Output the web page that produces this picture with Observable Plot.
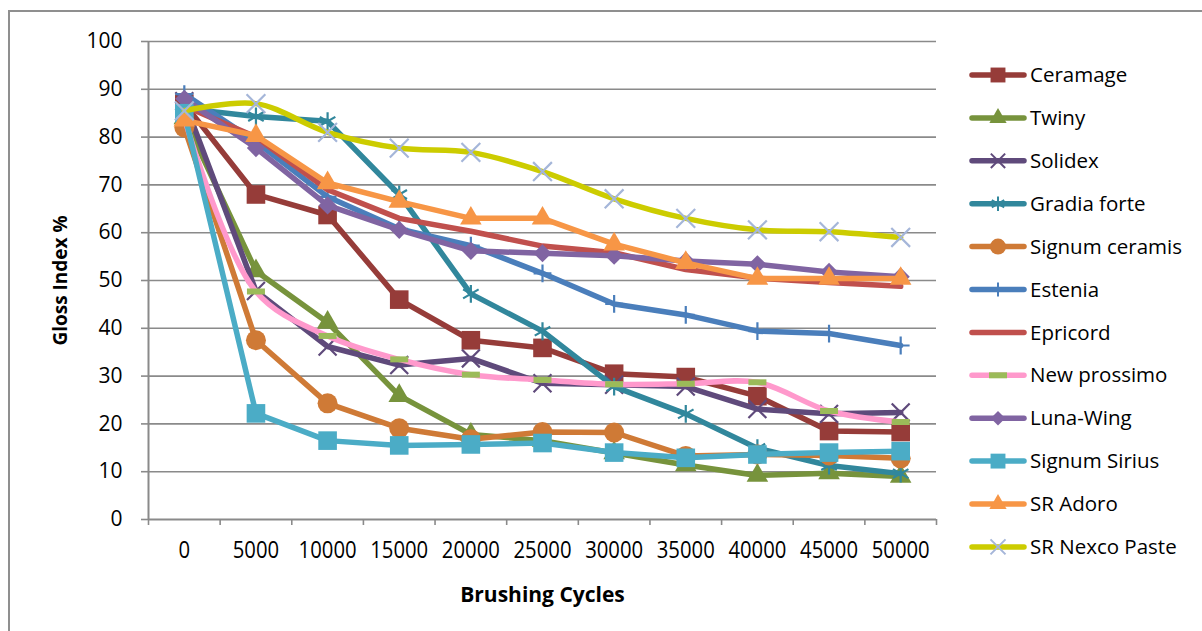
<!DOCTYPE html>
<html>
<head>
<meta charset="utf-8">
<script src="https://cdn.jsdelivr.net/npm/d3@7"></script>
<script src="https://cdn.jsdelivr.net/npm/@observablehq/plot@0.6"></script>
<style>
  html, body { margin: 0; padding: 0; background: #fff; overflow: hidden; }
  #wrap { position: relative; width: 1202px; height: 631px; overflow: hidden; }
  #frame { position: absolute; left: 8px; top: 10px; width: 1300px; height: 700px; border: 2px solid #8f8f8f; box-sizing: border-box; }
  #chart { position: absolute; left: 0; top: 0; }
</style>
</head>
<body>
<div id="wrap"><div id="frame"></div><div id="chart"></div></div>
<script>
// ---- data ----
const cycles = [0, 5000, 10000, 15000, 20000, 25000, 30000, 35000, 40000, 45000, 50000];
const yTicks = [0, 10, 20, 30, 40, 50, 60, 70, 80, 90, 100];
const seriesNames = ["Ceramage", "Twiny", "Solidex", "Gradia forte", "Signum ceramis", "Estenia",
  "Epricord", "New prossimo", "Luna-Wing", "Signum Sirius", "SR Adoro", "SR Nexco Paste"];
const ceramage      = [87, 68, 63.7, 46, 37.5, 35.9, 30.5, 29.8, 25.8, 18.5, 18.3];
const twiny         = [84, 52, 41.2, 25.9, 17.8, 16.5, 13.9, 11.4, 9.2, 9.7, 9.0];
const solidex       = [87.5, 47.8, 36.2, 32.3, 33.7, 28.5, 28.2, 27.8, 23.1, 22.1, 22.4];
const gradiaForte   = [86, 84.3, 83.3, 68, 47.2, 39.4, 27.8, 22.1, 14.9, 11.3, 9.6];
const signumCeramis = [82, 37.5, 24.3, 19.1, 16.8, 18.3, 18.2, 13.3, 13.6, 13.4, 12.8];
const estenia       = [89, 79, 67.5, 60.8, 57.3, 51.5, 45.1, 42.8, 39.4, 38.9, 36.4];
const epricord      = [86.5, 80, 69, 63, 60.3, 57.2, 55.8, 52.3, 50.5, 49.6, 48.8];
const newProssimo   = [84, 47.7, 38.4, 33.5, 30.3, 29.2, 28.3, 28.4, 28.7, 22.7, 20.4];
const lunaWing      = [88, 77.7, 65.7, 60.6, 56.2, 55.7, 55.2, 54.1, 53.4, 51.8, 50.8];
const signumSirius  = [85, 22.2, 16.5, 15.5, 15.7, 16.0, 14.0, 12.9, 13.6, 14.0, 14.3];
const srAdoro       = [83.5, 80.3, 70.4, 66.5, 63.0, 63.0, 57.6, 53.7, 50.4, 50.4, 50.4];
const srNexcoPaste  = [85.5, 87, 81, 77.7, 76.8, 72.8, 67.1, 63, 60.6, 60.2, 59];
const seriesValues = [ceramage, twiny, solidex, gradiaForte, signumCeramis, estenia,
  epricord, newProssimo, lunaWing, signumSirius, srAdoro, srNexcoPaste];

// ---- styles ----
const dash = { draw(ctx) { ctx.moveTo(-9, -3); ctx.lineTo(9, -3); ctx.lineTo(9, 3); ctx.lineTo(-9, 3); ctx.closePath(); } };
const lineColors = ["#963C39", "#77933C", "#5F4A7B", "#31879C", "#CF7A36", "#4A7EBB",
  "#C0504D", "#FF99CC", "#8064A2", "#4BACC6", "#F79646", "#CCCC00"];
const markerColors = ["#963C39", "#77933C", "#5F4A7B", "#31879C", "#CF7A36", "#4A7EBB",
  null, "#9BBB59", "#8064A2", "#4BACC6", "#F79646", "#A5B6D9"];
const markerSymbols = ["square", "triangle", "times", "asterisk", "circle", "plus",
  null, dash, "diamond2", "square", "triangle", "times"];
const markerFilled = [true, true, false, false, true, false, false, true, true, true, true, false];
const markerR = [10.5, 8, 8.2, 8.5, 10, 5.8, 0, 6, 8.2, 10.5, 8, 8.6];
const smooth = [false, false, false, false, false, false, false, true, false, false, false, true];

const rows = seriesNames.map((name, s) => seriesValues[s].map((v, i) => ({ name, i, v })));

const gray = "#8a8a8a";
const marks = [
  Plot.gridY(yTicks.slice(1), { stroke: gray, strokeOpacity: 1, strokeWidth: 1.6 }),
  Plot.ruleX([-0.5], { stroke: gray, strokeWidth: 2 }),
  Plot.ruleY([0], { stroke: gray, strokeWidth: 2 }),
  Plot.axisY({ ticks: yTicks, tickSize: 7, tickPadding: 19, fontSize: 21, stroke: gray, strokeWidth: 1.6, label: null, fill: "#000" }),
  Plot.axisX({ ticks: d3.range(-0.5, 11, 1), tickSize: 6, tickFormat: () => "", stroke: gray, strokeWidth: 1.6, label: null }),
  Plot.axisX({ ticks: d3.range(0, 11, 1), tickSize: 0, tickPadding: 22, tickFormat: i => String(cycles[i]),
    fontSize: 23, label: null, fill: "#000" }),
  Plot.text(["Gloss Index %"], { frameAnchor: "left", dx: -88, rotate: -90, textAnchor: "middle", fontWeight: "bold", fontSize: 19, fill: "#000" }),
  Plot.text(["Brushing Cycles"], { frameAnchor: "bottom", dy: 82, textAnchor: "middle", fontWeight: "bold", fontSize: 21, fill: "#000" })
];
rows.forEach((data, s) => {
  marks.push(Plot.line(data, { x: "i", y: "v", stroke: lineColors[s], strokeWidth: 5.5,
    strokeLinejoin: "round", strokeLinecap: "round", curve: smooth[s] ? "catmull-rom" : "linear" }));
  if (markerSymbols[s]) {
    marks.push(Plot.dot(data, { x: "i", y: "v", symbol: markerSymbols[s], r: markerR[s],
      fill: markerFilled[s] ? markerColors[s] : "none",
      stroke: markerFilled[s] ? "none" : markerColors[s], strokeWidth: 2.2 }));
  }
});

const chart = Plot.plot({
  width: 1202, height: 631,
  marginLeft: 148, marginRight: 266, marginTop: 41, marginBottom: 112,
  x: { type: "linear", domain: [-0.5, 10.5], axis: null },
  y: { domain: [0, 100], axis: null },
  style: { fontFamily: "'Open Sans', sans-serif", fontSize: "21px", background: "transparent", overflow: "visible" },
  marks
});
document.getElementById("chart").appendChild(chart);

const svg = d3.select(chart);
// condense the category labels like the reference's narrow font
const cycleText = new Set(cycles.map(String));
svg.selectAll("text").each(function () {
  const t = this.textContent;
  const inLegendOrTitle = this.closest('[aria-label^="y-axis"]');
  if (!inLegendOrTitle && cycleText.has(t) && +this.getAttribute("font-size") !== 21) {
    d3.select(this).attr("textLength", t.length * 11.6).attr("lengthAdjust", "spacingAndGlyphs");
  }
});

// ---- legend (drawn into the same SVG) ----
const symMap = { square: d3.symbolSquare, triangle: d3.symbolTriangle, times: d3.symbolTimes,
  asterisk: d3.symbolAsterisk, circle: d3.symbolCircle, plus: d3.symbolPlus, diamond2: d3.symbolDiamond2 };
const lg = svg.append("g").attr("font-family", "'Open Sans', sans-serif").attr("font-size", 20.5)
  .attr("text-anchor", "start");
seriesNames.forEach((name, s) => {
  const g = lg.append("g").attr("transform", `translate(998,${75 + s * 42.9})`);
  g.append("line").attr("x1", -26).attr("x2", 26).attr("stroke", lineColors[s])
    .attr("stroke-width", 5.5).attr("stroke-linecap", "round");
  if (markerSymbols[s]) {
    const t = typeof markerSymbols[s] === "string" ? symMap[markerSymbols[s]] : markerSymbols[s];
    const r = markerR[s] * 0.8;
    g.append("path").attr("d", d3.symbol(t, Math.PI * r * r)())
      .attr("fill", markerFilled[s] ? markerColors[s] : "none")
      .attr("stroke", markerFilled[s] ? "none" : markerColors[s]).attr("stroke-width", 2);
  }
  g.append("text").attr("x", 32).attr("dy", "0.35em").attr("text-anchor", "start").attr("fill", "#000").text(name);
});
</script>
</body>
</html>
